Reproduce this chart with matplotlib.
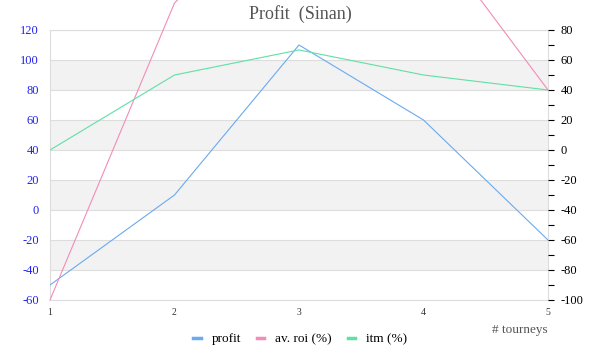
import matplotlib
matplotlib.use("Agg")
import matplotlib.pyplot as plt
from matplotlib.ticker import MultipleLocator

tourneys = [1, 2, 3, 4, 5]
profit = [-50, 10, 110, 60, -20]
av_roi = [-100, 98, 180, 151, 40]
itm = [0, 50, 66.7, 50, 40]

left_ticks = list(range(-60, 121, 20))
right_ticks = list(range(-100, 81, 20))

plt.rcParams["font.family"] = ["Liberation Serif", "DejaVu Serif"]
plt.rcParams["axes.unicode_minus"] = False
grid_c = "#dddddd"

fig = plt.figure(figsize=(6, 3.6), dpi=100)
ax = fig.add_axes([50 / 600, 60 / 360, 498 / 600, 270 / 360])
ax.set_xlim(1, 5)
ax.set_ylim(-60, 120)
ax.set_yticks(left_ticks)
ax.set_xticks(tourneys)

# alternating bands
for i, lo in enumerate(left_ticks[:-1]):
    if i % 2 == 0:
        ax.axhspan(lo + 20, lo + 40, color="#f2f2f2", lw=0, zorder=0)
for t in left_ticks:
    ax.axhline(t, color=grid_c, lw=0.8, zorder=1)

for s in ax.spines.values():
    s.set_color(grid_c)
    s.set_linewidth(0.8)
ax.tick_params(axis="y", length=0, labelsize=9, labelcolor="#2222ee", pad=8)
ax.tick_params(axis="x", length=0, labelsize=7, labelcolor="#333333", pad=6)

ax2 = ax.twinx()
ax2.set_ylim(-100, 80)
ax2.set_yticks(right_ticks)
ax2.yaxis.set_minor_locator(MultipleLocator(10))
for s in ax2.spines.values():
    s.set_visible(False)
ax2.tick_params(axis="y", which="major", length=4, width=0.8, color="black",
                labelsize=9, labelcolor="black", pad=5)
ax2.tick_params(axis="y", which="minor", length=4, width=0.8, color="black")

l1, = ax.plot(tourneys, profit, color="#6aaaf0", lw=0.8, zorder=3, label="profit")
l2, = ax2.plot(tourneys, av_roi, color="#f28cb8", lw=0.8, zorder=3,
               clip_on=False, label="av. roi (%)")
l3, = ax2.plot(tourneys, itm, color="#5fe0a6", lw=0.8, zorder=3, label="itm (%)")

fig.text(0.5, 1 - 14 / 360, "Profit  (Sinan)", ha="center", va="center",
         fontsize=13, color="#555555")
fig.text(548 / 600, 1 - 330 / 360, "# tourneys", ha="right", va="center",
         fontsize=9.5, color="#555555")

leg = fig.legend(handles=[l1, l2, l3], loc="center", bbox_to_anchor=(0.5, 1 - 339 / 360),
                 ncol=3, frameon=False, fontsize=9.5, handlelength=0.6,
                 columnspacing=1.2, handletextpad=0.8)
for h in leg.legend_handles:
    h.set_linewidth(2.5)

fig.savefig("out.png", dpi=100)
